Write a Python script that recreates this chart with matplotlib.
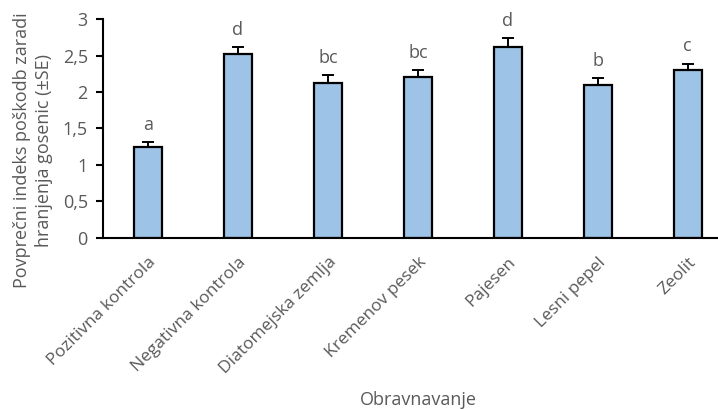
import matplotlib.pyplot as plt
import numpy as np

treatments = ["Pozitivna kontrola", "Negativna kontrola", "Diatomejska zemlja",
              "Kremenov pesek", "Pajesen", "Lesni pepel", "Zeolit"]
means = [1.24, 2.52, 2.13, 2.21, 2.62, 2.09, 2.30]
se = [0.07, 0.10, 0.10, 0.09, 0.12, 0.10, 0.09]
letters = ["a", "d", "bc", "bc", "d", "b", "c"]
yticks = [0, 0.5, 1, 1.5, 2, 2.5, 3]
ytick_labels = ["0", "0,5", "1", "1,5", "2", "2,5", "3"]

grey = "#595959"
plt.rcParams['font.family'] = ['Open Sans', 'DejaVu Sans']

fig = plt.figure(figsize=(7.18, 4.09), dpi=100)
ax = fig.add_axes([0.1435, 0.419, 0.877, 0.534])

x = np.arange(len(treatments))
ax.bar(x, means, width=0.31, color="#9DC3E6", edgecolor="black", linewidth=1.6, zorder=2)
ax.errorbar(x, means, yerr=[np.zeros(len(se)), se], fmt="none", ecolor="black",
            elinewidth=1.4, capsize=4, capthick=1.4, zorder=3)

for xi, m, s, lab in zip(x, means, se, letters):
    ax.annotate(lab, (xi, m + s), xytext=(0, 6), textcoords="offset points",
                ha="center", va="bottom", fontsize=13, color=grey)

ax.set_xlim(-0.5, 6.5)
ax.set_ylim(0, 3)
ax.set_yticks(yticks)
ax.set_yticklabels(ytick_labels, fontsize=13, color=grey)
ax.set_xticks(x)
ax.set_xticklabels(treatments, rotation=45, ha="right", rotation_mode="anchor",
                   fontsize=12.5, color=grey)
ax.tick_params(axis="x", length=0, pad=12)
ax.tick_params(axis="y", length=5, width=1.5, direction="out", pad=6)

for side in ["top", "right"]:
    ax.spines[side].set_visible(False)
ax.spines["left"].set_linewidth(1.5)
ax.spines["bottom"].set_linewidth(1.5)

ax.set_ylabel("Povprečni indeks poškodb zaradi\nhranjenja gosenic (±SE)",
              fontsize=13, color=grey, linespacing=1.25)
ax.yaxis.set_label_coords(-0.08, 0.40)
fig.text(0.583, 0.0, "Obravnavanje", ha="center", va="bottom", fontsize=13, color=grey)

fig.savefig("out.png", dpi=100)
